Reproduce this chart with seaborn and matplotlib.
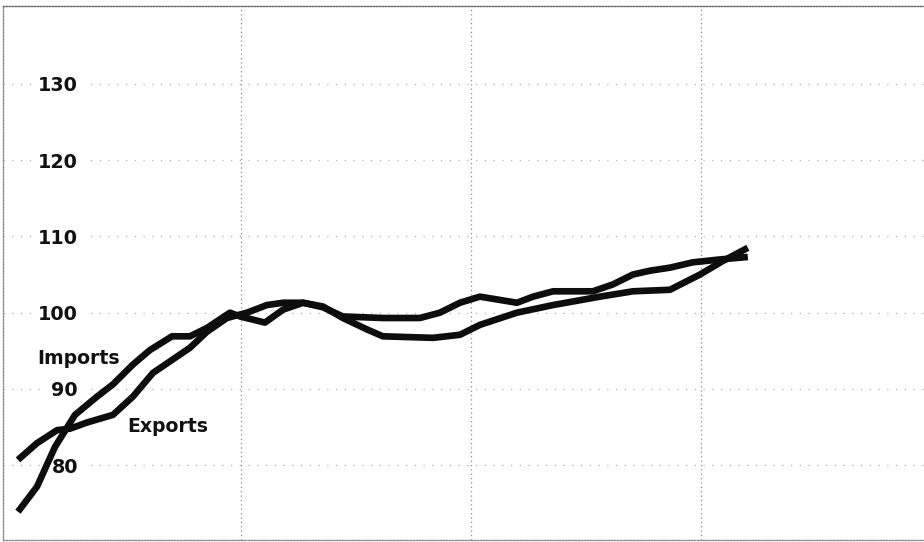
import matplotlib
matplotlib.use("Agg")
import matplotlib.pyplot as plt
import seaborn as sns
import pandas as pd

# time in years (vertical grid lines mark year boundaries at 1, 2, 3)
imports_t = [0.030, 0.113, 0.191, 0.278, 0.374, 0.443, 0.530, 0.604, 0.700, 0.778,
             0.852, 0.952, 0.996, 1.104, 1.183, 1.270, 1.357, 1.443, 1.548, 1.617,
             1.835, 1.952, 2.039, 2.200, 2.357, 2.487, 2.561, 2.704, 2.865, 2.996,
             3.091, 3.204]
imports_v = [73.9, 77.2, 82.4, 86.6, 89.0, 90.6, 93.2, 95.1, 96.9, 96.9,
             98.0, 100.0, 99.5, 98.7, 100.4, 101.3, 100.8, 99.3, 97.8, 96.9,
             96.7, 97.1, 98.4, 100.0, 101.0, 101.7, 102.1, 102.8, 103.0, 105.0,
             106.7, 108.5]

exports_t = [0.030, 0.113, 0.200, 0.257, 0.330, 0.443, 0.530, 0.617, 0.700, 0.778,
             0.852, 0.939, 1.026, 1.113, 1.183, 1.270, 1.357, 1.443, 1.617, 1.778,
             1.865, 1.952, 2.039, 2.200, 2.270, 2.357, 2.530, 2.617, 2.704, 2.778,
             2.865, 2.965, 3.091, 3.204]
exports_v = [80.7, 82.9, 84.6, 84.8, 85.6, 86.6, 89.0, 92.1, 93.8, 95.4,
             97.5, 99.3, 100.0, 101.0, 101.3, 101.3, 100.7, 99.5, 99.3, 99.3,
             100.0, 101.3, 102.1, 101.3, 102.1, 102.8, 102.8, 103.7, 105.0, 105.5,
             105.9, 106.6, 107.0, 107.3]

y_ticks = [80, 90, 100, 110, 120, 130]
x_grid = [1, 2, 3]

df = pd.concat([
    pd.DataFrame({"t": imports_t, "v": imports_v, "series": "Imports"}),
    pd.DataFrame({"t": exports_t, "v": exports_v, "series": "Exports"}),
])

sns.set_style("white")
plt.rcParams["font.family"] = ["DejaVu Sans"]

fig = plt.figure(figsize=(9.24, 5.42), dpi=100)
ax = fig.add_axes([3 / 924, 2 / 542, 1 - 3 / 924, (540 - 6) / 542])

sns.lineplot(data=df, x="t", y="v", hue="series", units="series", estimator=None,
             palette={"Imports": "#0d0d0d", "Exports": "#0d0d0d"},
             linewidth=4.8, legend=False, ax=ax, sort=False,
             solid_capstyle="butt", solid_joinstyle="round", zorder=5)

ax.set_xlim(-0.035, 3.97)
ax.set_ylim(70.2, 140.2)
ax.set_xticks(x_grid)
ax.set_xticklabels([])
ax.set_yticks(y_ticks)
ax.set_yticklabels([str(v) for v in y_ticks], fontweight="bold")
ax.set_xlabel("")
ax.set_ylabel("")

ax.tick_params(axis="y", length=0, pad=-54, labelsize=13.8)
ax.tick_params(axis="x", length=0)
for lab in ax.get_yticklabels():
    lab.set_fontweight("bold")
    lab.set_color("#111111")
    lab.set_bbox(dict(facecolor="white", edgecolor="none", pad=4))
    lab.set_zorder(4)

ax.grid(True, axis="y", color="#b0b0b0", linestyle=(0, (1, 6)), linewidth=0.9)
ax.grid(True, axis="x", color="#8a8a8a", linestyle=(0, (1, 2.5)), linewidth=0.9)

ax.spines["right"].set_visible(False)
for side in ["top", "left", "bottom"]:
    ax.spines[side].set_visible(True)
    ax.spines[side].set_color("#8a8a8a")
    ax.spines[side].set_linewidth(1.0)
    ax.spines[side].set_linestyle((0, (1, 1.2)))
ax.spines["top"].set_color("#666666")

ax.text(0.113, 94.0, "Imports", ha="left", va="center", fontsize=13.6,
        fontweight="bold", color="#111111", zorder=6)
ax.text(0.504, 85.1, "Exports", ha="left", va="center", fontsize=13.6,
        fontweight="bold", color="#111111", zorder=6)

fig.savefig("out.png", dpi=100)
